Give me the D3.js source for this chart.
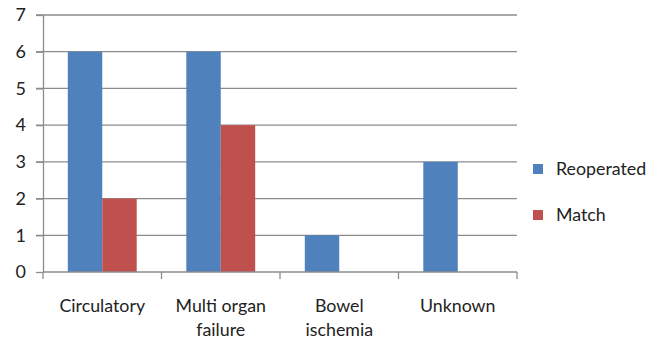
<!DOCTYPE html>
<html><head><meta charset="utf-8">
<script src="https://cdn.jsdelivr.net/npm/d3@7"></script>
<style>body{margin:0;background:#fff}svg{display:block}</style>
</head><body>
<script>
const categories = [["Circulatory"], ["Multi organ", "failure"], ["Bowel", "ischemia"], ["Unknown"]];
const seriesNames = ["Reoperated", "Match"];
const reoperated = [6, 6, 1, 3];
const match = [2, 4, 0, 0];
const yTicks = [0, 1, 2, 3, 4, 5, 6, 7];
const colors = ["#4F81BD", "#C0504D"];

const W = 658, H = 344;
const m = {left: 43, right: 141, top: 15, bottom: 72};
const svg = d3.select("body").append("svg").attr("width", W).attr("height", H);
const font = "Lato, sans-serif";

const x = d3.scaleBand().domain(d3.range(categories.length)).range([m.left, W - m.right]);
const y = d3.scaleLinear().domain([0, 7]).range([H - m.bottom, m.top]);
const inner = d3.scaleBand().domain(d3.range(2)).range([0, x.bandwidth()]).paddingOuter(0.72).paddingInner(0);

// gridlines
svg.append("g").selectAll("line").data(yTicks.filter(d => d > 0)).join("line")
  .attr("x1", m.left - 7).attr("x2", W - m.right)
  .attr("y1", d => y(d)).attr("y2", d => y(d))
  .attr("stroke", "#8c8c8c").attr("stroke-width", 1.3);

// bars
const data = categories.map((c, i) => [reoperated[i], match[i]]);
const g = svg.append("g").selectAll("g").data(data).join("g")
  .attr("transform", (d, i) => `translate(${x(i)},0)`);
g.selectAll("rect").data(d => d.map((v, j) => ({v, j}))).join("rect")
  .attr("x", d => inner(d.j)).attr("width", inner.bandwidth())
  .attr("y", d => y(d.v)).attr("height", d => y(0) - y(d.v))
  .attr("fill", d => colors[d.j]);

// y axis
const yAxis = svg.append("g").attr("transform", `translate(${m.left},0)`)
  .call(d3.axisLeft(y).tickValues(yTicks).tickFormat(d3.format("d")).tickSize(7).tickSizeOuter(0).tickPadding(10));
yAxis.select(".domain").attr("stroke", "#8c8c8c").attr("stroke-width", 1.3);
yAxis.selectAll(".tick line").attr("stroke", "#8c8c8c").attr("stroke-width", 1.3);
yAxis.selectAll("text").attr("font-family", font).attr("font-size", 18).attr("fill", "#222");

// x axis
const xAxis = svg.append("g").attr("transform", `translate(0,${y(0)})`);
xAxis.append("line").attr("x1", m.left).attr("x2", W - m.right).attr("stroke", "#8c8c8c").attr("stroke-width", 1.3);
const bounds = d3.range(categories.length + 1).map(i => m.left + i * x.step());
xAxis.selectAll(".xt").data(bounds).join("line").attr("class", "xt")
  .attr("x1", d => d).attr("x2", d => d).attr("y1", 0).attr("y2", 7)
  .attr("stroke", "#8c8c8c").attr("stroke-width", 1.3);
const labels = svg.append("g").selectAll("text").data(categories).join("text")
  .attr("x", (d, i) => x(i) + x.bandwidth() / 2).attr("y", y(0) + 40)
  .attr("text-anchor", "middle").attr("font-family", font).attr("font-size", 17.8).attr("fill", "#222");
labels.selectAll("tspan").data(d => d).join("tspan")
  .attr("x", function() { return this.parentNode.getAttribute("x"); })
  .attr("dy", (d, k) => k === 0 ? 0 : 24).text(d => d);

// legend
const leg = svg.append("g").selectAll("g").data(seriesNames).join("g")
  .attr("transform", (d, i) => `translate(533,${164 + i * 46})`);
leg.append("rect").attr("width", 10).attr("height", 10).attr("fill", (d, i) => colors[i]);
leg.append("text").attr("x", 23).attr("y", 11).attr("font-family", font).attr("font-size", 17.8)
  .attr("fill", "#222").text(d => d);
</script>
</body></html>
